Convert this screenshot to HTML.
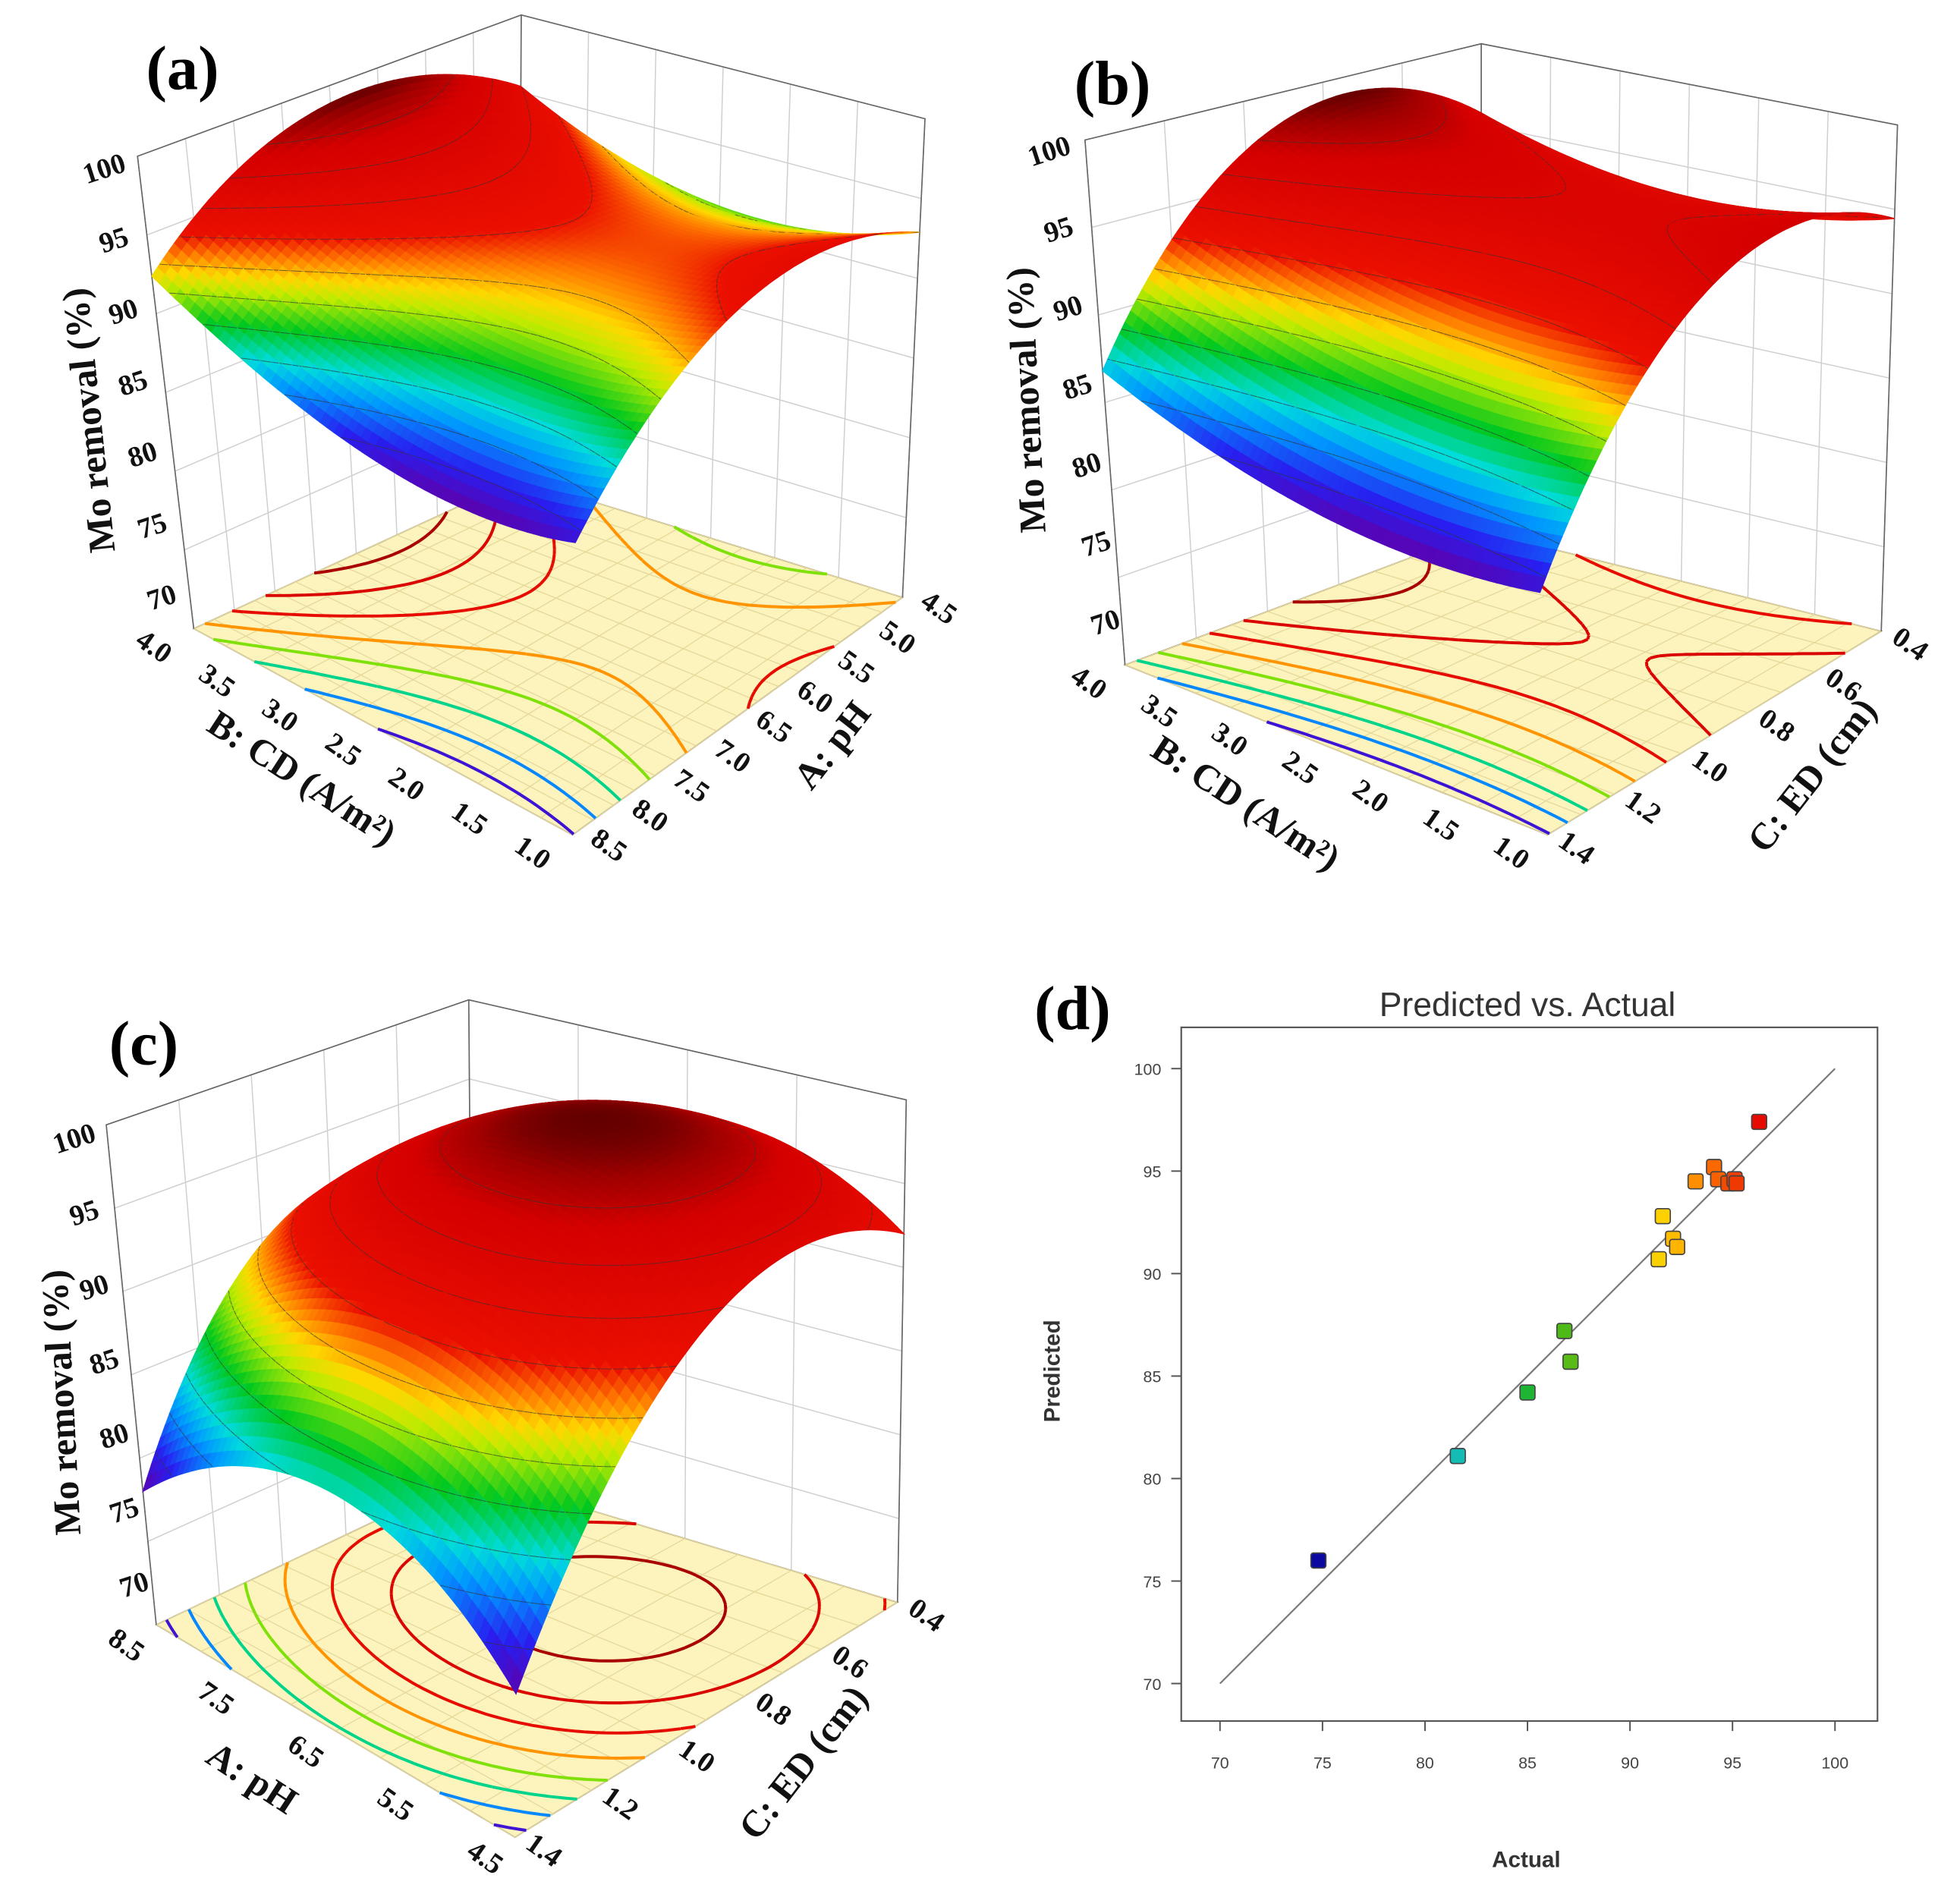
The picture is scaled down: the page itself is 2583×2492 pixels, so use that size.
<!DOCTYPE html>
<html><head><meta charset="utf-8">
<style>
html,body{margin:0;padding:0;background:#fff;}
svg{display:block;}
.tk{font-family:"Liberation Serif",serif;font-weight:bold;font-size:23px;fill:#111;}
.ttl{font-family:"Liberation Serif",serif;font-weight:bold;font-size:30px;fill:#111;}
.let{font-family:"Liberation Serif",serif;font-weight:bold;font-size:50px;fill:#000;}
.dk{font-family:"Liberation Sans",sans-serif;font-size:13px;fill:#444;}
</style></head>
<body>
<svg id="fig" xmlns="http://www.w3.org/2000/svg" width="2583" height="2492" viewBox="0 0 1568 1513" preserveAspectRatio="none">
<rect x="0" y="0" width="1568" height="1513" fill="#fff"/>
</svg>
<script>
// ---- surface model coefficients [c0, x, y, xy, x2, y2] ----
const coefA = [93.76, 2.125, -2.375, 0.875, 3, -5];
const coefB = [95.2, 1.08, -4.9, 0.43, 2, -7];
const coefC = [98, -1, -6, 1, -6, -8];
const zTicks = [70, 75, 80, 85, 90, 95, 100];
const cdTicks = ['1.0', '1.5', '2.0', '2.5', '3.0', '3.5', '4.0'];
const phTicksA = ['8.5', '8.0', '7.5', '7.0', '6.5', '6.0', '5.5', '5.0', '4.5'];
const edTicks = ['1.4', '1.2', '1.0', '0.8', '0.6', '0.4'];
const phTicksC = ['4.5', '5.5', '6.5', '7.5', '8.5'];
// ---- scatter (d) ----
const actualVals = [74.8, 81.6, 85.0, 86.8, 87.1, 91.4, 91.6, 92.1, 92.3, 93.2, 94.1, 94.3, 94.8, 95.1, 95.2, 96.3];
const predictedVals = [76.0, 81.1, 84.2, 87.2, 85.7, 90.7, 92.8, 91.7, 91.3, 94.5, 95.2, 94.6, 94.4, 94.6, 94.4, 97.4];
const axisTicksD = [70, 75, 80, 85, 90, 95, 100];

const NS = 'http://www.w3.org/2000/svg';
const svg = document.getElementById('fig');
function mk(tag, attrs, parent) {
  const e = document.createElementNS(NS, tag);
  for (const k in attrs) e.setAttribute(k, attrs[k]);
  (parent || svg).appendChild(e);
  return e;
}
const stops = [[0,[95,0,170]],[0.1,[40,30,240]],[0.2,[0,150,255]],[0.27,[0,220,220]],[0.37,[0,200,30]],[0.47,[190,235,0]],[0.52,[255,215,0]],[0.58,[255,120,0]],[0.64,[235,15,0]],[0.88,[212,0,0]],[0.95,[160,0,0]],[1,[100,0,0]]];
function cmap(t) {
  t = Math.max(0, Math.min(1, t));
  for (let i = 1; i < stops.length; i++) {
    if (t <= stops[i][0]) {
      const a = stops[i-1], b = stops[i], f = (t - a[0]) / (b[0] - a[0]);
      const c = a[1].map((v, j) => Math.round(v + (b[1][j] - v) * f));
      return 'rgb(' + c.join(',') + ')';
    }
  }
  return 'rgb(100,0,0)';
}

const panels = [
  {id:'a', coef:coefA, F:[458,668], L:[155,503], R:[722,478], B:[415,383], TF:[462,240], TL:[110,125], TR:[740,95], TB:[417,12],
   uT:cdTicks, vT:phTicksA, uOff:[-33,16], vOff:[28,10], z0:[130,480], z1:[84,137],
   uTitle:'B: CD (A/m²)', uTP:[240,625], vTitle:'A: pH', vTP:[668,598], zTP:[74,336], zRot:-96, let:[146,60]},
  {id:'b', coef:coefB, F:[1238,668], L:[900,532], R:[1505,505], B:[1185,425], TF:[1225,246], TL:[868,112], TR:[1518,100], TB:[1185,35],
   uT:cdTicks, vT:edTicks, uOff:[-30,16], vOff:[22,12], z0:[885,500], z1:[840,123],
   uTitle:'B: CD (A/m²)', uTP:[995,645], vTitle:'C: ED (cm)', vTP:[1452,622], zTP:[824,320], zRot:-93, let:[890,72]},
  {id:'c', coef:coefC, F:[412,1470], L:[125,1300], R:[718,1282], B:[378,1180], TF:[415,1040], TL:[85,900], TR:[725,880], TB:[375,800],
   uT:phTicksC, vT:edTicks, uOff:[-25,18], vOff:[22,12], z0:[108,1270], z1:[60,913],
   uTitle:'A: pH', uTP:[200,1425], vTitle:'C: ED (cm)', vTP:[645,1412], zTP:[52,1122], zRot:-93, let:[115,840]}
];

function surfZ(c, u, v) {
  const x = 2*u - 1, y = 1 - 2*v;
  return c[0] + c[1]*x + c[2]*y + c[3]*x*y + c[4]*x*x + c[5]*y*y;
}
function P(p, u, v, w) {
  const bl = (A, Bq, C, D) => [0,1].map(i => A[i]*(1-u)*(1-v) + Bq[i]*u*(1-v) + C[i]*(1-u)*v + D[i]*u*v);
  const f = bl(p.F, p.L, p.R, p.B), t = bl(p.TF, p.TL, p.TR, p.TB);
  return [f[0] + (t[0]-f[0])*w, f[1] + (t[1]-f[1])*w];
}
const W = z => (z - 70) / 30;
const pt = a => a[0].toFixed(1) + ',' + a[1].toFixed(1);

function cellSegs(Z, i, j, lev, N, proj) {
  const c = [[i,j],[i+1,j],[i+1,j+1],[i,j+1]];
  const pts = [];
  for (let e = 0; e < 4; e++) {
    const a = c[e], b = c[(e+1)%4];
    const za = Z[a[0]][a[1]], zb = Z[b[0]][b[1]];
    if ((za - lev) * (zb - lev) < 0) {
      const f = (lev - za) / (zb - za);
      pts.push(proj((a[0] + (b[0]-a[0])*f)/N, (a[1] + (b[1]-a[1])*f)/N));
    }
  }
  let d = '';
  for (let q = 0; q + 1 < pts.length; q += 2) d += 'M' + pt(pts[q]) + 'L' + pt(pts[q+1]);
  return d;
}

panels.forEach(p => {
  const g = mk('g', {});
  
  
  const wl = mk('polygon', {points:[P(p,1,0,0),P(p,1,1,0),P(p,1,1,1),P(p,1,0,1)].map(pt).join(' '), fill:'#fff', stroke:'#999', 'stroke-width':0.8}, g);
  
  
  const wr = mk('polygon', {points:[P(p,0,1,0),P(p,1,1,0),P(p,1,1,1),P(p,0,1,1)].map(pt).join(' '), fill:'#fff', stroke:'#999', 'stroke-width':0.8}, g);
  
  
  let gd = '';
  zTicks.forEach(z => { const w = W(z);
    gd += 'M' + pt(P(p,1,0,w)) + 'L' + pt(P(p,1,1,w)) + 'L' + pt(P(p,0,1,w)); });
  const nu = p.uT.length - 1, nv = p.vT.length - 1;
  for (let i = 0; i <= nu; i++) gd += 'M' + pt(P(p,i/nu,1,0)) + 'L' + pt(P(p,i/nu,1,1));
  for (let j = 0; j <= nv; j++) gd += 'M' + pt(P(p,1,j/nv,0)) + 'L' + pt(P(p,1,j/nv,1));
  const wg = mk('path', {d:gd, fill:'none', stroke:'#cfcfcf', 'stroke-width':0.9}, g);
  
  
  const fl = mk('polygon', {points:[P(p,0,0,0),P(p,1,0,0),P(p,1,1,0),P(p,0,1,0)].map(pt).join(' '), fill:'#fcf3bd', stroke:'#777', 'stroke-width':1}, g);
  
  
  let fd = '';
  for (let i = 0; i <= 2*nu; i++) fd += 'M' + pt(P(p,i/(2*nu),0,0)) + 'L' + pt(P(p,i/(2*nu),1,0));
  for (let j = 0; j <= 2*nv; j++) fd += 'M' + pt(P(p,0,j/(2*nv),0)) + 'L' + pt(P(p,1,j/(2*nv),0));
  const fg = mk('path', {d:fd, fill:'none', stroke:'#e6d89a', 'stroke-width':0.8}, g);
  
  
  const N = 60; let zmin = 1e9, zmax = -1e9;
  const Z = [];
  for (let i = 0; i <= N; i++) { Z.push([]); for (let j = 0; j <= N; j++) { const z = surfZ(p.coef, i/N, j/N); Z[i].push(z); zmin = Math.min(zmin, z); zmax = Math.max(zmax, z); } }
  const nl = 8;
  for (let k = 0; k < nl; k++) {
    const lev = zmin + (k + 0.5) * (zmax - zmin) / nl;
    let d = '';
    for (let i = 0; i < N; i++) for (let j = 0; j < N; j++) d += cellSegs(Z, i, j, lev, N, (u, v) => P(p, u, v, 0));
    const cl = mk('path', {d:d, fill:'none', stroke:cmap((lev - zmin)/(zmax - zmin)), 'stroke-width':2.4}, g);
    
    
  }
  let ed = 'M' + pt(P(p,1,0,0)) + 'L' + pt(P(p,1,0,1)) + 'L' + pt(P(p,1,1,1)) + 'L' + pt(P(p,0,1,1)) + 'L' + pt(P(p,0,1,0)) +
           'M' + pt(P(p,1,1,0)) + 'L' + pt(P(p,1,1,1));
  const be = mk('path', {d:ed, fill:'none', stroke:'#666', 'stroke-width':1}, g);
  
  
  const cells = [];
  for (let i = 0; i < N; i++) for (let j = 0; j < N; j++) cells.push([i, j]);
  cells.sort((a, b) => (b[0] + b[1]) - (a[0] + a[1]));
  const sg = mk('g', {}, g);
  
  
  const sl = 11;
  cells.forEach(([i, j]) => {
    const q = [[i,j],[i+1,j],[i+1,j+1],[i,j+1]].map(c => P(p, c[0]/N, c[1]/N, W(Z[c[0]][c[1]])));
    const zc = (Z[i][j] + Z[i+1][j] + Z[i+1][j+1] + Z[i][j+1]) / 4;
    const col = cmap((zc - zmin) / (zmax - zmin));
    mk('polygon', {points:q.map(pt).join(' '), fill:col, stroke:col, 'stroke-width':0.8}, sg);
    let d = '';
    for (let k = 1; k < sl; k++) {
      const lev = zmin + k * (zmax - zmin) / sl;
      d += cellSegs(Z, i, j, lev, N, (u, v) => P(p, u, v, W(surfZ(p.coef, u, v))));
    }
    if (d) mk('path', {d:d, fill:'none', stroke:'#333', 'stroke-width':0.6, 'stroke-opacity':0.7}, sg);
  });
  zTicks.forEach((z, k) => {
    const f = k / (zTicks.length - 1);
    const x = p.z0[0] + (p.z1[0]-p.z0[0])*f, y = p.z0[1] + (p.z1[1]-p.z0[1])*f;
    const t = mk('text', {x:x, y:y, class:'tk', 'text-anchor':'middle', 'dominant-baseline':'middle', transform:'rotate(-18 '+x+' '+y+')'}, g);
    
    
    t.textContent = z;
  });
  p.uT.forEach((s, k) => {
    const a = P(p, k/nu, 0, 0), x = a[0] + p.uOff[0], y = a[1] + p.uOff[1];
    const t = mk('text', {x:x, y:y, class:'tk', 'text-anchor':'middle', 'dominant-baseline':'middle', transform:'rotate(35 '+x+' '+y+')'}, g);
    
    
    t.textContent = s;
  });
  p.vT.forEach((s, k) => {
    const a = P(p, 0, k/nv, 0), x = a[0] + p.vOff[0], y = a[1] + p.vOff[1];
    const t = mk('text', {x:x, y:y, class:'tk', 'text-anchor':'middle', 'dominant-baseline':'middle', transform:'rotate(35 '+x+' '+y+')'}, g);
    
    
    t.textContent = s;
  });
  const t1 = mk('text', {x:p.uTP[0], y:p.uTP[1], class:'ttl', 'text-anchor':'middle', 'dominant-baseline':'middle', transform:'rotate(33 '+p.uTP[0]+' '+p.uTP[1]+')'}, g);
  
  
  t1.textContent = p.uTitle;
  const t2 = mk('text', {x:p.vTP[0], y:p.vTP[1], class:'ttl', 'text-anchor':'middle', 'dominant-baseline':'middle', transform:'rotate(-52 '+p.vTP[0]+' '+p.vTP[1]+')'}, g);
  
  
  t2.textContent = p.vTitle;
  const t3 = mk('text', {x:p.zTP[0], y:p.zTP[1], class:'ttl', 'text-anchor':'middle', 'dominant-baseline':'middle', transform:'rotate(' + p.zRot + ' '+p.zTP[0]+' '+p.zTP[1]+')'}, g);
  
  
  t3.textContent = 'Mo removal (%)';
  const t4 = mk('text', {x:p.let[0], y:p.let[1], class:'let', 'text-anchor':'middle', 'dominant-baseline':'middle'}, g);
  
  
  t4.textContent = '(' + p.id + ')';
});

// ---- panel (d) ----
const gd4 = mk('g', {});


const xs = v => 976 + (v - 70) * (1468 - 976) / 30;
const ys = v => 1347 - (v - 70) * (1347 - 855) / 30;
const frame = mk('rect', {x:945, y:822, width:557, height:555, fill:'none', stroke:'#555', 'stroke-width':1.3}, gd4);


axisTicksD.forEach(v => {
  mk('line', {x1:xs(v), x2:xs(v), y1:1377, y2:1385, stroke:'#555', 'stroke-width':1.2}, gd4);
  const tx = mk('text', {x:xs(v), y:1415, class:'dk', 'text-anchor':'middle'}, gd4);
  
  
  tx.textContent = v;
  mk('line', {x1:937, x2:945, y1:ys(v), y2:ys(v), stroke:'#555', 'stroke-width':1.2}, gd4);
  const ty = mk('text', {x:929, y:ys(v) + 5, class:'dk', 'text-anchor':'end'}, gd4);
  
  
  ty.textContent = v;
});
const dl = mk('line', {x1:xs(70), y1:ys(70), x2:xs(100), y2:ys(100), stroke:'#777', 'stroke-width':1.3}, gd4);


const amin = Math.min(...actualVals), amax = Math.max(...actualVals);
const dcol = [[0,[10,10,160]],[0.32,[20,190,180]],[0.5,[30,180,30]],[0.78,[255,210,0]],[0.87,[255,130,0]],[1,[230,10,0]]];
function dmap(t) {
  for (let i = 1; i < dcol.length; i++) if (t <= dcol[i][0]) {
    const a = dcol[i-1], b = dcol[i], f = (t - a[0]) / (b[0] - a[0]);
    return 'rgb(' + a[1].map((v, j) => Math.round(v + (b[1][j] - v) * f)).join(',') + ')';
  }
  return 'rgb(230,10,0)';
}
actualVals.forEach((a, i) => {
  const r = mk('rect', {x:xs(a) - 6, y:ys(predictedVals[i]) - 6, width:12, height:12, rx:2, fill:dmap((a - amin)/(amax - amin)), stroke:'#444', 'stroke-width':1}, gd4);
  
  
});
const ttl = mk('text', {x:1222, y:813, 'font-family':'Liberation Sans, sans-serif', 'font-size':27, fill:'#333', 'text-anchor':'middle'}, gd4);


ttl.textContent = 'Predicted vs. Actual';
const yt = mk('text', {x:843, y:1097, 'font-family':'Liberation Sans, sans-serif', 'font-size':18, 'font-weight':'bold', fill:'#333', 'text-anchor':'middle', 'dominant-baseline':'middle', transform:'rotate(-90 843 1097)'}, gd4);


yt.textContent = 'Predicted';
const xt = mk('text', {x:1221, y:1494, 'font-family':'Liberation Sans, sans-serif', 'font-size':18, 'font-weight':'bold', fill:'#333', 'text-anchor':'middle'}, gd4);


xt.textContent = 'Actual';
const ld = mk('text', {x:858, y:812, class:'let', 'text-anchor':'middle', 'dominant-baseline':'middle'}, gd4);


ld.textContent = '(d)';
</script>
</body></html>
